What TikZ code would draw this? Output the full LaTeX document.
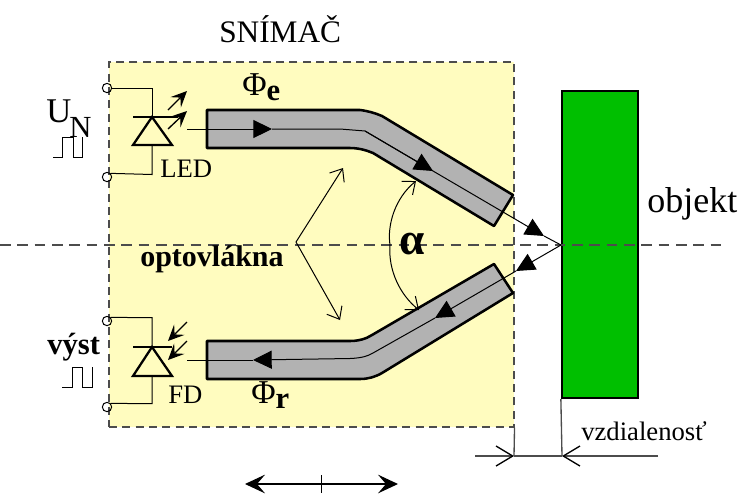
\documentclass[tikz,border=0pt]{standalone}
\usepackage{fontspec}
\setmainfont{Liberation Serif}
\usetikzlibrary{arrows.meta,positioning}

\begin{document}
\begin{tikzpicture}[
			x=0.75pt,y=-0.75pt,
			txt/.style={inner sep=0pt,anchor=base west},
			sensor/.style={draw=black!70,dashed,dash pattern=on 6pt off 4pt,fill=yellow!25!white,line width=0.8pt,
				minimum width=303.75pt,minimum height=273.75pt,inner sep=0pt},
			target/.style={draw=black,fill=green!75!black,line width=1.7pt,minimum width=57pt,minimum height=230.25pt,inner sep=0pt},
			fibre/.style={draw=black,fill=black!30,line width=1.9pt,line join=round},
			beam/.style={line width=0.75pt},
			beamtip/.style={beam,-{Triangle[length=14pt,width=13.5pt]}},
			wire/.style={line width=0.75pt},
			term/.style={circle,draw,line width=0.75pt,inner sep=0pt,minimum size=7pt},
			diode/.style={line width=1.7pt,line join=miter},
			rays/.style={line width=1pt,-{Stealth[length=12pt,width=11pt,inset=5pt]}},
			note/.style={line width=0.75pt,-{Straight Barb[length=8pt,width=13pt]}},
			dimen/.style={draw=black!70,line width=1pt},
			dimtip/.style={dimen,-{Straight Barb[length=12.5pt,width=15pt,black]}},
			move/.style={line width=0.9pt,-{Stealth[length=15pt,width=14pt,inset=6pt]}}
			]
			
			\useasboundingbox (0,0) rectangle (742,494);
			
			\node[sensor] (snimac) at (311.5,244.5) {};
			\node[target] (objekt) at (600,244.5) {};
			
			\coordinate (left) at (0,245);
			\coordinate (right) at (725,245);
			\draw[draw=black!70,line width=0.8pt,dash pattern=on 8pt off 5pt] (left)--(right);
			
			% fibres
			\draw[fibre] (207,110)--(360,110) .. controls (368,111) and (375,113) .. (382,116)--(513,195)--(494,226)--(373,153) .. controls (366,150) and (358,148) .. (350,148)--(207,148)--cycle;
			\draw[fibre] (207,341)--(350,341) .. controls (358,341) and (366,339) .. (372,335)--(494,264)--(513,293)--(382,373) .. controls (375,377) and (368,379) .. (360,379)--(207,379)--cycle;
			
			\coordinate (spot) at (561,245);
			\coordinate (ledout) at (187,129);
			\coordinate (fdin) at (187,360);
			\coordinate (bendu) at (365,131);
			\coordinate (bendd) at (373,353);
			\coordinate (tipa) at (272,129);
			\coordinate (tipb) at (433,171);
			\coordinate (tipc) at (544,236);
			\coordinate (tipd) at (516,271);
			\coordinate (tipe) at (435,318);
			\coordinate (tipf) at (253,360);
			
			\draw[beamtip] (ledout)--(tipa);
			\draw[beam] (tipa)--(340,129)--(bendu)--(tipb);
			\draw[beamtip] (bendu)--(tipb);
			\draw[beamtip] (tipb)--(tipc);
			\draw[beam] (tipc)--(spot);
			\draw[beamtip] (spot)--(tipd);
			\draw[beamtip] (tipd)--(tipe);
			\draw[beamtip] (tipe)--(bendd) .. controls (368,356) and (362,358) .. (350,358.5)--(tipf);
			\draw[beam] (tipf)--(fdin);
			
			% LED
			\node[term] (ua) at (107,88) {};
			\node[term] (ub) at (107,177) {};
			\coordinate (leda) at (152,117);
			\coordinate (ledb) at (152,145);
			\draw[wire] (ua.east)--(152,88)--(leda);
			\draw[wire] (ub.north east)--(152,174.5)--(ledb);
			\draw[diode] (leda)--(133,145)--(172,145)--cycle;
			\draw[diode] (133,117)--(178,117);
			\draw[rays] (168,110)--(187,91);
			\draw[rays] (168,129)--(187,111);
			
			% FD
			\node[term] (va) at (107,321) {};
			\node[term] (vb) at (107,407) {};
			\coordinate (fda) at (152,347);
			\coordinate (fdb) at (152,376);
			\draw[wire] (va.north east)--(152,317.7)--(fda);
			\draw[wire] (vb.north east)--(152,403.7)--(fdb);
			\draw[diode] (fda)--(133,376)--(172,376)--cycle;
			\draw[diode] (133,347)--(172,347);
			\draw[rays] (187,322)--(168,341);
			\draw[rays] (187,341)--(168,360);
			
			% pulses
			\draw[wire] (53,157)--(62,157)--(62,137)--(73,137)--(73,157)--(82,157)--(82,137);
			\draw[wire] (62,387)--(72,387)--(72,367)--(82,367)--(82,387)--(92,387)--(92,367);
			
			% notes
			\coordinate (opt) at (296,242);
			\draw[note] (opt)--(343,168);
			\draw[note] (opt)--(340,320);
			\draw[note] (390,245) .. controls (387,225) and (395,198) .. (416,181);
			\draw[note] (390,245) .. controls (388,270) and (400,295) .. (419,310);
			
			% distance
			\coordinate (da) at (514,456);
			\coordinate (db) at (562,456);
			\draw[dimen] (snimac.south east)--(da);
			\draw[dimen] (objekt.south west)--(db);
			\draw[dimen] (da)--(db);
			\draw[dimtip] (475,456)--(da);
			\draw[dimtip] (658,456)--(db);
			
			% movement
			\coordinate (mid) at (321.5,484);
			\draw[move] (mid)--(245,484);
			\draw[move] (mid)--(398,484);
			\draw[line width=1.2pt] (321.5,475)--(321.5,493);
			
			% labels
			\node[txt,font=\fontsize{23.5}{24}\selectfont] (title) at (219,42) {SNÍMAČ};
			\node[txt,font=\fontsize{26}{26}\selectfont] (unu) at (46,122) {U};
			\node[txt,font=\fontsize{23}{24}\selectfont] (unn) at (69,137) {N};
			\node[txt,font=\fontsize{20}{24}\selectfont] (led) at (160,177) {LED};
			\node[txt,font=\fontsize{20}{24}\selectfont] (fd) at (168,403) {FD};
			\node[txt,font=\fontsize{23}{24}\selectfont\bfseries] (vyst) at (47,354) {výst};
			\node[txt,font=\fontsize{22.5}{24}\selectfont\bfseries] (opto) at (140,266) {optovlákna};
			\node[txt,font=\fontsize{25}{24}\selectfont] (fie) at (242,95) {Φ\raisebox{-4pt}{\fontsize{23}{24}\selectfont\bfseries e}};
			\node[txt,font=\fontsize{25}{24}\selectfont] (fir) at (251,403) {Φ\raisebox{-4pt}{\fontsize{23}{24}\selectfont\bfseries r}};
			\node[txt,font=\fontsize{34}{34}\selectfont\bfseries] (alpha) at (399,254) {α};
			\node[txt,font=\fontsize{27}{30}\selectfont] (obj) at (647,212) {objekt};
			\node[txt,font=\fontsize{20}{24}\selectfont] (dist) at (581,440) {vzdialenosť};
			
		\end{tikzpicture}
\end{document}
